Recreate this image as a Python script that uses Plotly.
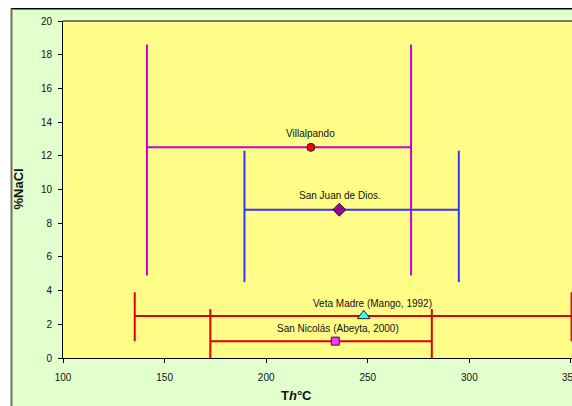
import plotly.graph_objects as go

names = ["Villalpando", "San Juan de Dios.", "Veta Madre (Mango, 1992)", "San Nicolás (Abeyta, 2000)"]
th_center = [222, 236, 248, 234]
nacl_center = [12.5, 8.8, 2.5, 1.0]
th_min = [141.3, 189.3, 135.3, 172.5]
th_max = [271.3, 294.8, 350.3, 281.5]
vbar_low = [4.9, 4.5, 1.0, 0.0]
vbar_high = [18.6, 12.3, 3.9, 2.9]
x_ticks = [100, 150, 200, 250, 300, 350]
y_ticks = [0, 2, 4, 6, 8, 10, 12, 14, 16, 18, 20]

line_colors = ["#CC00CC", "#3333FF", "#E00000", "#E00000"]
marker_symbols = ["circle", "diamond", "triangle-up", "square"]
marker_colors = ["#FF0000", "#990099", "#33FFFF", "#FF33FF"]
marker_sizes = [8, 10, 11, 8]
label_shift = [(0, 14), (1, 14), (9, 12), (3, 13)]

fig = go.Figure()
for i in range(len(names)):
    xs = [th_min[i], th_max[i], None, th_min[i], th_min[i], None, th_max[i], th_max[i]]
    ys = [nacl_center[i], nacl_center[i], None, vbar_low[i], vbar_high[i], None, vbar_low[i], vbar_high[i]]
    fig.add_trace(go.Scatter(x=xs, y=ys, mode="lines",
                             line=dict(color=line_colors[i], width=2),
                             showlegend=False, hoverinfo="skip"))
for i in range(len(names)):
    fig.add_trace(go.Scatter(x=[th_center[i]], y=[nacl_center[i]], mode="markers",
                             marker=dict(symbol=marker_symbols[i], color=marker_colors[i],
                                         size=marker_sizes[i], line=dict(color="#222222", width=1)),
                             showlegend=False, name=names[i]))
    fig.add_annotation(x=th_center[i], y=nacl_center[i], text=names[i], showarrow=False,
                       xshift=label_shift[i][0], yshift=label_shift[i][1],
                       font=dict(family="Liberation Sans, Arial", size=10, color="#111111"))

W, H = 572, 406
ml, mr, mt, mb = 63, 0, 21, 48
pw = W - ml - mr
ph = H - mt - mb

# white border strips & frame lines
fig.add_shape(type="rect", xref="paper", yref="paper", x0=-ml / pw - 0.01, x1=1.01,
              y0=1 + (mt - 8) / ph, y1=1 + mt / ph + 0.01, fillcolor="white", line_width=0, layer="below")
fig.add_shape(type="rect", xref="paper", yref="paper", x0=-ml / pw - 0.01, x1=-(ml - 10.5) / pw,
              y0=-mb / ph - 0.01, y1=1 + mt / ph + 0.01, fillcolor="white", line_width=0, layer="below")
fig.add_shape(type="line", xref="paper", yref="paper", x0=-(ml - 11) / pw, x1=1.01,
              y0=1 + (mt - 8.75) / ph, y1=1 + (mt - 8.75) / ph, line=dict(color="black", width=1.5))
fig.add_shape(type="line", xref="paper", yref="paper", x0=-(ml - 11.5) / pw, x1=-(ml - 11.5) / pw,
              y0=-mb / ph - 0.01, y1=1 + (mt - 8.75) / ph, line=dict(color="#707070", width=2))
fig.add_shape(type="line", xref="paper", yref="paper", x0=0, x1=1.01, y0=1, y1=1,
              line=dict(color="#505040", width=1.5))

# last x tick label, partly cut off by the right edge as in the original
fig.add_annotation(x=x_ticks[-1], y=0, xref="x", yref="paper", text=str(x_ticks[-1]),
                   showarrow=False, yanchor="middle", yshift=-19,
                   font=dict(family="Liberation Sans, Arial", size=10, color="#111111"))

# axis titles
fig.add_annotation(xref="paper", yref="paper", x=(296.5 - ml) / pw, y=-38 / ph,
                   text="<b>T<i>h</i>°C</b>", showarrow=False, xanchor="center", yanchor="middle",
                   font=dict(family="Liberation Sans, Arial", size=13, color="#111111"))
fig.add_annotation(xref="paper", yref="paper", x=(18 - ml) / pw, y=0.5,
                   text="<b>%NaCl</b>", showarrow=False, textangle=-90, xanchor="center", yanchor="middle",
                   font=dict(family="Liberation Sans, Arial", size=13, color="#111111"))

fig.update_layout(
    width=W, height=H,
    margin=dict(l=ml, r=mr, t=mt, b=mb),
    paper_bgcolor="#E2FFCE",
    plot_bgcolor="#FFFD88",
    font=dict(family="Liberation Sans, Arial", size=10, color="#111111"),
    xaxis=dict(range=[100, 350.5], tickvals=x_ticks, ticktext=[str(v) for v in x_ticks[:-1]] + [""],
               ticks="outside", ticklen=4, tickcolor="black", showgrid=False, zeroline=False,
               showline=True, linecolor="black", linewidth=1, automargin=False,
               tickfont=dict(size=10), ticklabelstandoff=6),
    yaxis=dict(range=[0, 20], tickvals=y_ticks,
               ticks="outside", ticklen=4, tickcolor="black", showgrid=False, zeroline=False,
               showline=True, linecolor="black", linewidth=1, automargin=False,
               tickfont=dict(size=10), ticklabelstandoff=4),
)

fig.write_html("out.html", config={"displayModeBar": False},
               post_script="document.body.style.margin='0px';document.body.style.overflow='hidden';")
